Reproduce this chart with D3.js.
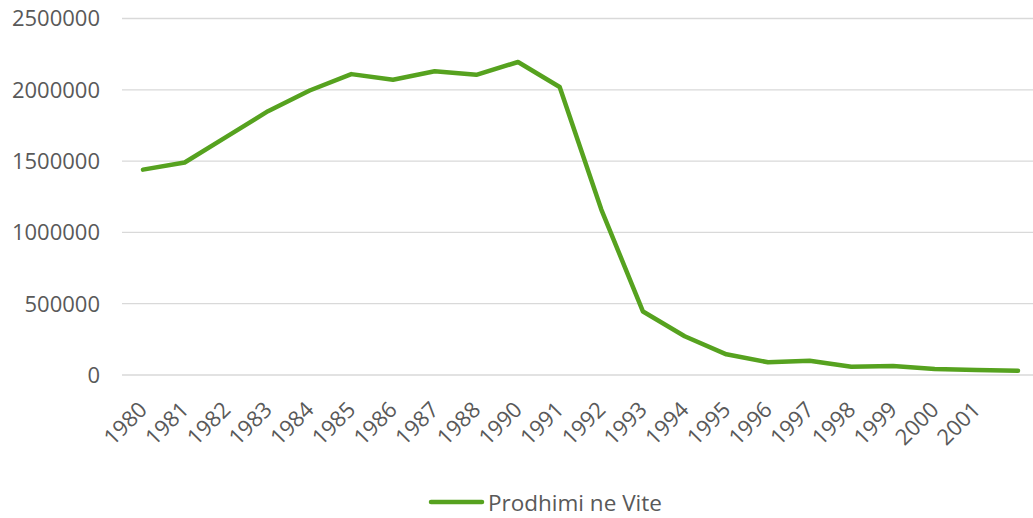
<!DOCTYPE html>
<html>
<head>
<meta charset="utf-8">
<script src="https://cdn.jsdelivr.net/npm/d3@7"></script>
<style>
  html, body { margin: 0; padding: 0; background: #fff; }
  svg { display: block; }
  text { font-family: "Open Sans", "Noto Sans", sans-serif; fill: #595959; }
</style>
</head>
<body>
<svg id="chart" width="1033" height="518"></svg>
<script>
const categories = ["1980","1981","1982","1983","1984","1985","1986","1987","1988","1990",
                    "1991","1992","1993","1994","1995","1996","1997","1998","1999","2000","2001",""];
const seriesName = "Prodhimi ne Vite";
const values = [1440000, 1490000, 1670000, 1850000, 1995000, 2110000, 2070000, 2130000, 2105000, 2195000,
                2020000, 1160000, 445000, 272000, 145000, 89000, 100000, 58000, 63000, 42000, 35000, 30000];
const yTicks = [0, 500000, 1000000, 1500000, 2000000, 2500000];

const svg = d3.select("#chart");
const plot = { left: 122, right: 1033, top: 18.5, bottom: 375 };
const lineColor = "#56a21f";

const keys = categories.map((c, i) => i);
const x = d3.scalePoint().domain(keys).range([143, 1018]);
const y = d3.scaleLinear().domain([0, 2500000]).range([plot.bottom, plot.top]);

// gridlines
svg.append("g").selectAll("line").data(yTicks).join("line")
  .attr("x1", plot.left).attr("x2", plot.right)
  .attr("y1", d => y(d)).attr("y2", d => y(d))
  .attr("stroke", "#d9d9d9").attr("stroke-width", 1.3);

// y axis labels
const yAxis = d3.axisLeft(y).tickValues(yTicks).tickSize(0).tickPadding(0).tickFormat(d3.format("d"));
const gy = svg.append("g").attr("transform", "translate(100,0)").call(yAxis);
gy.select(".domain").remove();
gy.selectAll("text").attr("font-size", 22).attr("fill", "#595959")
  .attr("font-family", "'Open Sans', sans-serif").attr("dy", "0.34em").attr("x", 0);

// x axis labels
const xAxis = d3.axisBottom(x).tickSize(0).tickFormat(i => categories[i]);
const gx = svg.append("g").attr("transform", `translate(0,${plot.bottom})`).call(xAxis);
gx.select(".domain").remove();
gx.selectAll("text")
  .attr("font-size", 22).attr("fill", "#595959").attr("font-family", "'Open Sans', sans-serif")
  .attr("text-anchor", "end").attr("y", 0).attr("dy", 0)
  .attr("transform", "translate(5,36) rotate(-45)");

// line
const line = d3.line().x((d, i) => x(i)).y(d => y(d));
svg.append("path").datum(values)
  .attr("d", line).attr("fill", "none")
  .attr("stroke", lineColor).attr("stroke-width", 4.5)
  .attr("stroke-linecap", "round").attr("stroke-linejoin", "round");

// legend
const lg = svg.append("g");
lg.append("line").attr("x1", 431).attr("x2", 482).attr("y1", 502).attr("y2", 502)
  .attr("stroke", lineColor).attr("stroke-width", 4.5).attr("stroke-linecap", "round");
lg.append("text").attr("x", 488).attr("y", 511).attr("font-size", 22.5).text(seriesName);
</script>
</body>
</html>
